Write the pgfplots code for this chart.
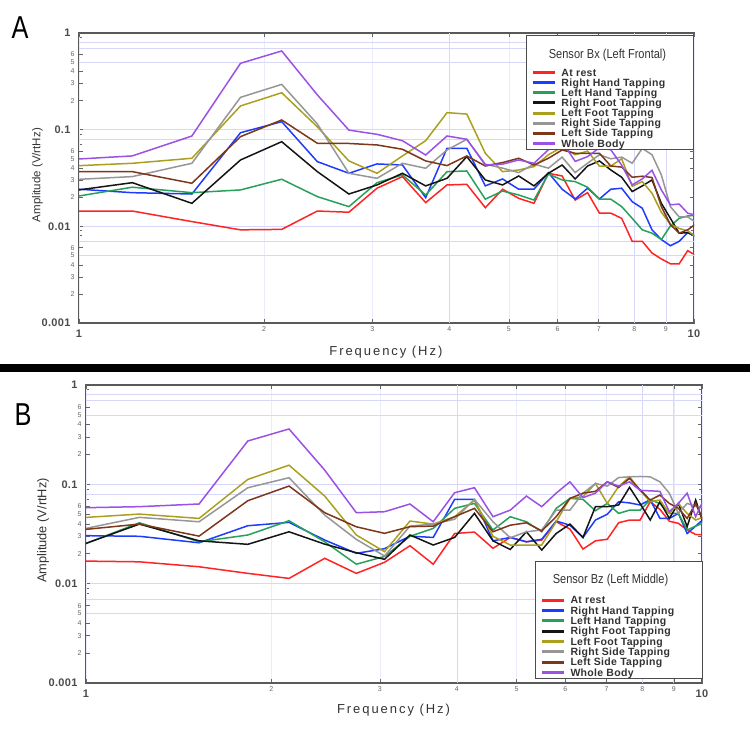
\documentclass[border=0pt]{standalone}
\usepackage{fontspec}
\setmainfont{Liberation Sans}
\newfontfamily\tickfont[LetterSpace=3]{Liberation Sans}
\newfontfamily\legfont[LetterSpace=3]{Liberation Sans}
\newfontfamily\labfont[LetterSpace=15]{Liberation Sans}
\newfontfamily\titfont[FakeStretch=0.85]{Liberation Sans}
\newfontfamily\panfont[FakeStretch=0.8]{Liberation Sans}
\usepackage{pgfplots}
\pgfplotsset{compat=1.18}
\usepackage{pgfplotstable}

\definecolor{cRed}{RGB}{255,35,35}
\definecolor{cBlue}{RGB}{30,60,255}
\definecolor{cGreen}{RGB}{40,160,90}
\definecolor{cBlack}{RGB}{20,20,20}
\definecolor{cOlive}{RGB}{170,160,30}
\definecolor{cGrey}{RGB}{150,150,150}
\definecolor{cBrown}{RGB}{125,55,25}
\definecolor{cPurple}{RGB}{155,80,230}
\definecolor{cGrid}{RGB}{215,215,250}
\definecolor{cGridv}{RGB}{235,235,252}

% Left Frontal, sensor Bx
\pgfplotstableread{
f      rest    rh      lh      rf      lf      rs      ls      wb
0.916  0.0144  0.0251  0.0188  0.0221  0.0414  0.0298  0.0368  0.0482
1.221  0.0144  0.0223  0.0254  0.0283  0.0449  0.0327  0.0368  0.0535
1.526  0.0112  0.0216  0.0223  0.0173  0.0506  0.0449  0.0279  0.086
1.831  0.0092  0.093   0.0238  0.0486  0.176   0.216   0.0847  0.486
2.136  0.0093  0.121   0.0307  0.0751  0.241   0.294   0.126   0.652
2.441  0.0144  0.0467  0.0203  0.0368  0.107   0.1146  0.0723  0.229
2.747  0.0140  0.0354  0.0160  0.0216  0.0475  0.0354  0.072   0.099
3.052  0.0248  0.0442  0.0283  0.0268  0.0354  0.0314  0.0695  0.0895
3.357  0.0327  0.0431  0.034   0.0354  0.0535  0.0449  0.0627  0.0769
3.662  0.0176  0.0198  0.0211  0.0262  0.0769  0.0399  0.0475  0.0547
3.967  0.0268  0.0642  0.0368  0.0314  0.150   0.0617  0.0425  0.086
4.272  0.0272  0.0642  0.0374  0.0526  0.145   0.0795  0.0535  0.0795
4.578  0.0156  0.0262  0.0191  0.0302  0.057   0.044   0.0421  0.0431
4.883  0.0242  0.0309  0.0232  0.0268  0.0368  0.040   0.0457  0.044
5.188  0.0195  0.0242  0.0211  0.0332  0.0383  0.036   0.0506  0.0486
5.493  0.0173  0.0242  0.0187  0.0262  0.0415  0.044   0.0431  0.0449
5.798  0.0354  0.0359  0.0348  0.0354  0.055   0.040   0.0506  0.062
6.104  0.0332  0.0242  0.0302  0.0431  0.066   0.052   0.0617  0.075
6.409  0.0187  0.0192  0.029   0.0309  0.055   0.036   0.057   0.047
6.714  0.0223  0.0248  0.0254  0.0421  0.060   0.045   0.057   0.0526
7.019  0.0137  0.0192  0.0191  0.0475  0.042   0.055   0.057   0.065
7.324  0.0137  0.0242  0.0191  0.0383  0.042   0.050   0.0421  0.062
7.629  0.0121  0.0248  0.016   0.0322  0.050   0.052   0.041   0.043
7.935  0.0070  0.018   0.0121  0.0229  0.026   0.045   0.0322  0.0268
8.240  0.0070  0.0154  0.0092  0.0262  0.029   0.064   0.033   0.031
8.545  0.0053  0.0092  0.0085  0.0302  0.022   0.055   0.032   0.038
8.850  0.0046  0.0073  0.0073  0.0173  0.014   0.034   0.016   0.0238
9.155  0.0041  0.0063  0.0101  0.0121  0.0105  0.016   0.0104  0.0167
9.460  0.0041  0.0070  0.0121  0.0085  0.0095  0.0125  0.0085  0.017
9.766  0.0056  0.0086  0.0128  0.0086  0.009   0.0125  0.0092  0.0137
10.07  0.0050  0.0078  0.013   0.008   0.0078  0.011   0.0106  0.013
}\tabA

% Left Middle, sensor Bz
\pgfplotstableread{
f      rest    rh      lh      rf      lf      rs      ls      wb
0.916  0.0170  0.0306  0.0206  0.0209  0.0449  0.0322  0.0334  0.0576
1.221  0.0166  0.030   0.041   0.0398  0.0502  0.0465  0.0398  0.0596
1.526  0.0148  0.0258  0.0264  0.027   0.0454  0.042   0.0301  0.0634
1.831  0.0127  0.0383  0.0309  0.0249  0.112   0.0924  0.0684  0.273
2.136  0.0113  0.0414  0.043   0.0333  0.156   0.1166  0.0961  0.361
2.441  0.018   0.0275  0.0264  0.025   0.0762  0.049   0.0518  0.139
2.747  0.0127  0.0202  0.0157  0.0205  0.0309  0.0279  0.0374  0.0518
3.052  0.0164  0.0225  0.0188  0.0176  0.021   0.019   0.0321  0.053
3.357  0.0241  0.0301  0.030   0.0309  0.0427  0.038   0.0375  0.0634
3.662  0.0157  0.0292  0.036   0.0245  0.0398  0.0398  0.038   0.042
3.967  0.032   0.0706  0.0573  0.0292  0.0472  0.0445  0.0472  0.0824
4.272  0.0331  0.0706  0.0643  0.051   0.0695  0.0706  0.0573  0.0925
4.578  0.0227  0.027   0.0347  0.027   0.030   0.042   0.0333  0.0472
4.883  0.0292  0.0292  0.0472  0.0221  0.0245  0.029   0.0388  0.055
5.188  0.0264  0.0264  0.042   0.0333  0.0245  0.0333  0.041   0.0762
5.493  0.0275  0.028   0.0333  0.0218  0.0245  0.0347  0.034   0.0596
5.798  0.042   0.0427  0.0573  0.032   0.042   0.055   0.0472  0.0815
6.104  0.0355  0.0388  0.0722  0.0398  0.0722  0.055   0.0722  0.106
6.409  0.0223  0.0292  0.0706  0.0292  0.075   0.0815  0.0815  0.0735
6.714  0.027   0.0437  0.0542  0.0596  0.102   0.102   0.085   0.0815
7.019  0.028   0.050   0.0643  0.0596  0.0643  0.096   0.106   0.106
7.324  0.0411  0.0668  0.051   0.062   0.095   0.117   0.093   0.096
7.629  0.0437  0.065   0.055   0.0933  0.119   0.119   0.115   0.106
7.935  0.0437  0.062   0.055   0.064   0.087   0.12    0.088   0.087
8.240  0.0668  0.07    0.07    0.0437  0.0668  0.119   0.0695  0.086
8.545  0.056   0.0454  0.064   0.0668  0.0695  0.106   0.078   0.085
8.850  0.0425  0.0454  0.051   0.0454  0.051   0.0815  0.0643  0.053
9.155  0.0405  0.051   0.051   0.0643  0.0643  0.051   0.0573  0.0643
9.460  0.0347  0.032   0.0347  0.0375  0.051   0.0643  0.0454  0.0815
9.766  0.0313  0.038   0.038   0.0695  0.0437  0.06    0.0643  0.0472
10.07  0.031   0.045   0.041   0.039   0.047   0.058   0.041   0.071
}\tabB

\newcommand\fs[1]{\fontsize{#1}{#1}\selectfont}

\pgfplotsset{legend image code/.code={\draw[#1, line width=3pt] (0pt,0pt) -- (22pt,0pt);}}

\begin{document}
\begin{tikzpicture}
\path[use as bounding box] (0pt,0pt) rectangle (750pt,-750pt);

\begin{axis}[at={(79pt,-323pt)}, anchor=south west, width=615pt, height=290pt,
  xmode=log, ymode=log, xmin=1, xmax=10, ymin=0.001, ymax=1,
  scale only axis,
  axis line style={draw=black!65, line width=1.3pt},
  tick style={draw=black!60, line width=0.6pt},
  major tick length=4pt, minor tick length=3pt,
  xtick={2,3,4,5,6,7,8,9}, xticklabels={2,3,4,5,6,7,8,9},
  xticklabel style={font=\tickfont\fs{7}, text=black!60},
  extra x ticks={1,10}, extra x tick labels={1,10},
  extra x tick style={xticklabel style={font=\tickfont\bfseries\fs{11}, text=black!70, yshift=-3.5pt}},
  xmajorgrids, major x grid style={cGridv, line width=0.6pt},
  ytick={0.001,0.01,0.1,1}, yticklabels={0.001,0.01,0.1,1},
  yticklabel style={font=\tickfont\bfseries\fs{11}, text=black!70, xshift=-5pt},
  extra y ticks={0.002,0.003,0.004,0.005,0.006,0.02,0.03,0.04,0.05,0.06,0.2,0.3,0.4,0.5,0.6},
  extra y tick labels={2,3,4,5,6,2,3,4,5,6,2,3,4,5,6},
  extra y tick style={grid=none, yticklabel style={font=\tickfont\mdseries\fs{7}, text=black!60, xshift=4pt}},
  ymajorgrids, major y grid style={cGrid, line width=0.7pt},
  legend cell align=left,
  xlabel={\labfont\fs{13}Frequency (Hz)},
  xlabel style={at={(axis description cs:0.499,0)}, anchor=center, yshift=-29pt, text=black!80},
  ylabel={\fs{11.5}Amplitude (V/rtHz)},
  ylabel style={at={(axis description cs:0,0.51)}, anchor=center, yshift=41.5pt, text=black!80},
  legend style={at={(0.7268,0.9931)}, anchor=north west, draw=black!70, line width=1pt,
    fill=white, inner xsep=5pt, inner ysep=1pt, row sep=0pt, column sep=5pt,
    nodes={inner sep=0pt, text=black!80}, font=\legfont\bfseries\fs{10.5}}]
\draw[cGrid, line width=0.7pt] (axis cs:1,0.8) -- (axis cs:10,0.8);
\draw[cGrid, line width=0.7pt] (axis cs:1,0.7) -- (axis cs:10,0.7);
\draw[cGrid, line width=0.7pt] (axis cs:1,0.5) -- (axis cs:10,0.5);
\draw[cGrid, line width=0.7pt] (axis cs:1,0.08) -- (axis cs:10,0.08);
\draw[cGrid, line width=0.7pt] (axis cs:1,0.007) -- (axis cs:10,0.007);
\draw[cGrid, line width=0.7pt] (axis cs:1,0.005) -- (axis cs:10,0.005);
\draw[cGrid, line width=0.7pt] (axis cs:4,0.001) -- (axis cs:4,1);
\draw[cGrid, line width=0.7pt] (axis cs:8,0.001) -- (axis cs:8,1);
\draw[cGrid, line width=0.7pt] (axis cs:9,0.001) -- (axis cs:9,1);
\addlegendimage{empty legend}
\addlegendentry{\rule{0pt}{29.35pt}\hspace*{-12.5pt}\raisebox{7.85pt}{\makebox[117pt][c]{\titfont\mdseries\fs{13}Sensor Bx (Left Frontal)}}\hspace*{22.5pt}}
\addplot[cRed, line width=1.5pt] table[x=f, y=rest] {\tabA};
\addlegendentry{\rule{0pt}{8.65pt}At rest}
\addplot[cBlue, line width=1.5pt] table[x=f, y=rh] {\tabA};
\addlegendentry{\rule{0pt}{8.65pt}Right Hand Tapping}
\addplot[cGreen, line width=1.5pt] table[x=f, y=lh] {\tabA};
\addlegendentry{\rule{0pt}{8.65pt}Left Hand Tapping}
\addplot[cBlack, line width=1.5pt] table[x=f, y=rf] {\tabA};
\addlegendentry{\rule{0pt}{8.65pt}Right Foot Tapping}
\addplot[cOlive, line width=1.5pt] table[x=f, y=lf] {\tabA};
\addlegendentry{\rule{0pt}{8.65pt}Left Foot Tapping}
\addplot[cGrey, line width=1.5pt] table[x=f, y=rs] {\tabA};
\addlegendentry{\rule{0pt}{8.65pt}Right Side Tapping}
\addplot[cBrown, line width=1.5pt] table[x=f, y=ls] {\tabA};
\addlegendentry{\rule{0pt}{8.65pt}Left Side Tapping}
\addplot[cPurple, line width=1.5pt] table[x=f, y=wb] {\tabA};
\addlegendentry{\rule{0pt}{8.65pt}Whole Body}
\end{axis}

\begin{axis}[at={(86pt,-683pt)}, anchor=south west, width=616pt, height=298pt,
  xmode=log, ymode=log, xmin=1, xmax=10, ymin=0.001, ymax=1,
  scale only axis,
  axis line style={draw=black!65, line width=1.3pt},
  tick style={draw=black!60, line width=0.6pt},
  major tick length=4pt, minor tick length=3pt,
  xtick={2,3,4,5,6,7,8,9}, xticklabels={2,3,4,5,6,7,8,9},
  xticklabel style={font=\tickfont\fs{7}, text=black!60},
  extra x ticks={1,10}, extra x tick labels={1,10},
  extra x tick style={xticklabel style={font=\tickfont\bfseries\fs{11}, text=black!70, yshift=-3.5pt}},
  xmajorgrids, major x grid style={cGridv, line width=0.6pt},
  ytick={0.001,0.01,0.1,1}, yticklabels={0.001,0.01,0.1,1},
  yticklabel style={font=\tickfont\bfseries\fs{11}, text=black!70, xshift=-5pt},
  extra y ticks={0.002,0.003,0.004,0.005,0.006,0.02,0.03,0.04,0.05,0.06,0.2,0.3,0.4,0.5,0.6},
  extra y tick labels={2,3,4,5,6,2,3,4,5,6,2,3,4,5,6},
  extra y tick style={grid=none, yticklabel style={font=\tickfont\mdseries\fs{7}, text=black!60, xshift=4pt}},
  ymajorgrids, major y grid style={cGrid, line width=0.7pt},
  legend cell align=left,
  xlabel={\labfont\fs{13}Frequency (Hz)},
  xlabel style={at={(axis description cs:0.4992,0)}, anchor=center, yshift=-27pt, text=black!80},
  ylabel={\fs{12.8}Amplitude (V/rtHz)},
  ylabel style={at={(axis description cs:0,0.5117)}, anchor=center, yshift=43pt, text=black!80},
  legend style={at={(0.7289,0.4104)}, anchor=north west, draw=black!70, line width=1pt,
    fill=white, inner xsep=5pt, inner ysep=1pt, row sep=0pt, column sep=5pt,
    nodes={inner sep=0pt, text=black!80}, font=\legfont\bfseries\fs{10.5}}]
\draw[cGrid, line width=0.7pt] (axis cs:1,0.8) -- (axis cs:10,0.8);
\draw[cGrid, line width=0.7pt] (axis cs:1,0.7) -- (axis cs:10,0.7);
\draw[cGrid, line width=0.7pt] (axis cs:1,0.5) -- (axis cs:10,0.5);
\draw[cGrid, line width=0.7pt] (axis cs:1,0.08) -- (axis cs:10,0.08);
\draw[cGrid, line width=0.7pt] (axis cs:1,0.007) -- (axis cs:10,0.007);
\draw[cGrid, line width=0.7pt] (axis cs:1,0.005) -- (axis cs:10,0.005);
\draw[cGrid, line width=0.7pt] (axis cs:4,0.001) -- (axis cs:4,1);
\draw[cGrid, line width=0.7pt] (axis cs:8,0.001) -- (axis cs:8,1);
\draw[cGrid, line width=0.7pt] (axis cs:9,0.001) -- (axis cs:9,1);
\addlegendimage{empty legend}
\addlegendentry{\rule{0pt}{31.27pt}\hspace*{-18.5pt}\raisebox{10.27pt}{\makebox[117pt][c]{\titfont\mdseries\fs{13}Sensor Bz (Left Middle)}}\hspace*{28.8pt}}
\addplot[cRed, line width=1.5pt] table[x=f, y=rest] {\tabB};
\addlegendentry{\rule{0pt}{8.83pt}At rest}
\addplot[cBlue, line width=1.5pt] table[x=f, y=rh] {\tabB};
\addlegendentry{\rule{0pt}{8.83pt}Right Hand Tapping}
\addplot[cGreen, line width=1.5pt] table[x=f, y=lh] {\tabB};
\addlegendentry{\rule{0pt}{8.83pt}Left Hand Tapping}
\addplot[cBlack, line width=1.5pt] table[x=f, y=rf] {\tabB};
\addlegendentry{\rule{0pt}{8.83pt}Right Foot Tapping}
\addplot[cOlive, line width=1.5pt] table[x=f, y=lf] {\tabB};
\addlegendentry{\rule{0pt}{8.83pt}Left Foot Tapping}
\addplot[cGrey, line width=1.5pt] table[x=f, y=rs] {\tabB};
\addlegendentry{\rule{0pt}{8.83pt}Right Side Tapping}
\addplot[cBrown, line width=1.5pt] table[x=f, y=ls] {\tabB};
\addlegendentry{\rule{0pt}{8.83pt}Left Side Tapping}
\addplot[cPurple, line width=1.5pt] table[x=f, y=wb] {\tabB};
\addlegendentry{\rule{0pt}{8.83pt}Whole Body}
\end{axis}

\fill[black] (0pt,-363.5pt) rectangle (750pt,-371.5pt);
\node[font=\panfont\fs{31.7}] at (20pt,-28pt) {A};
\node[font=\panfont\fs{31.7}] at (23pt,-414.7pt) {B};
\end{tikzpicture}
\end{document}
